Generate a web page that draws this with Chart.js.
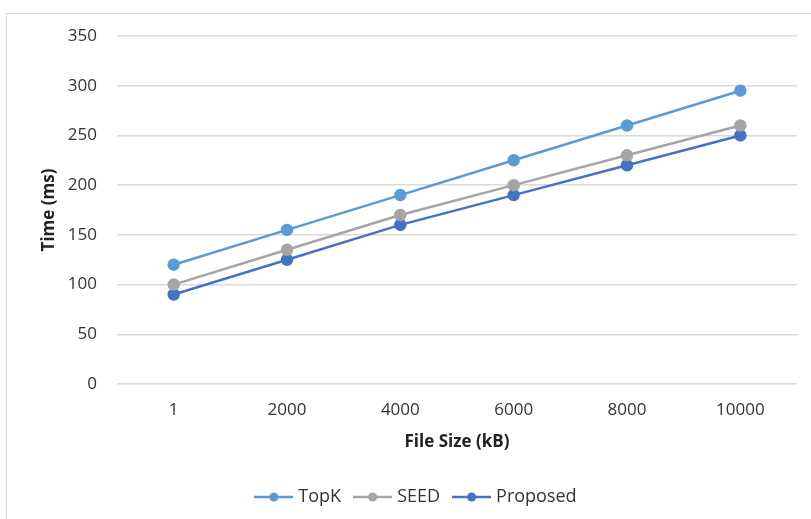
<!DOCTYPE html>
<html><head><meta charset="utf-8">
<script src="https://cdn.jsdelivr.net/npm/chart.js@4.4.1/dist/chart.umd.min.js"></script>
<style>html,body{margin:0;padding:0;background:#fff;}#wrap{width:811px;height:519px;position:relative;}</style>
</head><body><div id="wrap"><canvas id="c" width="811" height="519"></canvas></div>
<script>
const categories = ['1','2000','4000','6000','8000','10000'];
const topK = [120,155,190,225,260,295];
const seed = [100,135,170,200,230,260];
const proposed = [90,125,160,190,220,250];
const yTicks = [0,50,100,150,200,250,300,350];
const colors = {topK:'#5B9BD5', seed:'#A5A5A5', proposed:'#4472C4'};
const FONT = "'Open Sans', 'Liberation Sans', sans-serif";

function legendIcon(color){
  const cv = document.createElement('canvas');
  cv.width = 39; cv.height = 12;
  const g = cv.getContext('2d');
  g.strokeStyle = color; g.lineWidth = 2.5;
  g.beginPath(); g.moveTo(0,6); g.lineTo(39,6); g.stroke();
  g.fillStyle = color; g.beginPath(); g.arc(19.5,6,4.5,0,Math.PI*2); g.fill();
  return cv;
}
const icons = [legendIcon(colors.topK), legendIcon(colors.seed), legendIcon(colors.proposed)];

const borderPlugin = {
  id:'border',
  beforeDraw(chart){
    const ctx = chart.ctx;
    ctx.save();
    ctx.fillStyle='#fff'; ctx.fillRect(0,0,chart.width,chart.height);
    ctx.strokeStyle='#d9d9d9'; ctx.lineWidth=1;
    ctx.strokeRect(6.5,13.5,810,520);
    ctx.restore();
  }
};
const legendShift = {
  id:'legendShift',
  afterLayout(chart){
    if (chart.legend){ chart.legend.left += 19; chart.legend.right += 19; }
  }
};

function ds(label, data, color){
  return {label, data, borderColor:color, backgroundColor:color, borderWidth:2.5,
    pointRadius:5, pointHoverRadius:5, pointBackgroundColor:color, pointBorderColor:color, tension:0};
}

new Chart(document.getElementById('c'), {
  type:'line',
  data:{labels:categories, datasets:[ds('TopK',topK,colors.topK), ds('SEED',seed,colors.seed), ds('Proposed',proposed,colors.proposed)]},
  plugins:[borderPlugin, legendShift],
  options:{
    responsive:false, animation:false, devicePixelRatio:1,
    layout:{padding:{top:36,right:14,bottom:3,left:0}},
    scales:{
      x:{
        offset:true,
        grid:{display:false, drawTicks:false},
        border:{display:false},
        ticks:{color:'#333333', font:{family:FONT,size:17}, padding:16},
        title:{display:true, text:'File Size (kB)', color:'#222222', font:{family:FONT,size:17,weight:'bold'}, padding:{top:4,bottom:20}},
        afterFit(s){ s.height = 88; }
      },
      y:{
        min:0, max:350,
        afterBuildTicks(s){ s.ticks = yTicks.map(v=>({value:v})); },
        grid:{color:'#d9d9d9', lineWidth:1.5, drawTicks:false},
        border:{display:false},
        ticks:{color:'#333333', font:{family:FONT,size:17}, padding:20},
        title:{display:true, text:'Time (ms)', color:'#222222', font:{family:FONT,size:17,weight:'bold'}, padding:{top:39,bottom:0}},
        afterFit(s){ s.width = 117; }
      }
    },
    plugins:{
      tooltip:{enabled:false},
      legend:{
        position:'bottom',
        labels:{
          usePointStyle:true, pointStyleWidth:31, boxHeight:12,
          color:'#333333', font:{family:FONT,size:18}, padding:16,
          generateLabels(chart){
            const items = Chart.defaults.plugins.legend.labels.generateLabels(chart);
            items.forEach((it,i)=>{ it.pointStyle = icons[i]; });
            return items;
          }
        }
      }
    }
  }
});
</script></body></html>
